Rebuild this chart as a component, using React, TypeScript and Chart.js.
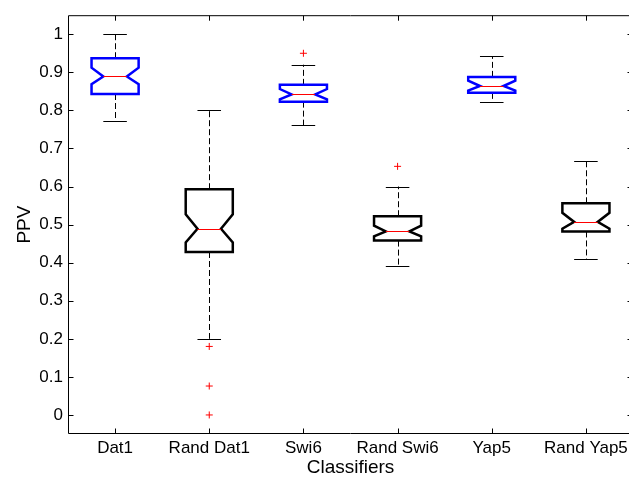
import React, { useEffect, useRef } from "react";
import { Chart, registerables } from "chart.js";

Chart.register(...registerables);

const categories = ["Dat1", "Rand Dat1", "Swi6", "Rand Swi6", "Yap5", "Rand Yap5"];
const whiskerLow = [0.773, 0.2, 0.761, 0.39, 0.823, 0.41];
const q1 = [0.843, 0.428, 0.823, 0.458, 0.846, 0.482];
const median = [0.889, 0.489, 0.842, 0.482, 0.864, 0.507];
const q3 = [0.937, 0.593, 0.867, 0.522, 0.888, 0.556];
const whiskerHigh = [1.0, 0.8, 0.92, 0.6, 0.942, 0.668];
const notchLow = [0.869, 0.453, 0.829, 0.469, 0.852, 0.489];
const notchHigh = [0.912, 0.527, 0.856, 0.497, 0.878, 0.531];
const boxColors = ["#0000ff", "#000000", "#0000ff", "#000000", "#0000ff", "#000000"];

const outlierCategory = [2, 2, 2, 3, 4];
const outlierValue = [0.18, 0.076, 0.0, 0.95, 0.653];

const yTickValues = [0, 0.1, 0.2, 0.3, 0.4, 0.5, 0.6, 0.7, 0.8, 0.9, 1];
const yTickLabels = ["0", "0.1", "0.2", "0.3", "0.4", "0.5", "0.6", "0.7", "0.8", "0.9", "1"];

const FONT = '"Liberation Sans", Arial, Helvetica, sans-serif';
const BOX_HALF = 0.25;
const NOTCH_HALF = 0.125;
const CAP_HALF = 0.125;

const boxPlugin = {
  id: "notchedBoxes",
  beforeDatasetsDraw(chart: any) {
    const { ctx } = chart;
    const x = chart.scales.x;
    const y = chart.scales.y;
    ctx.save();
    categories.forEach((_, i) => {
      const c = i + 1;
      const cx = x.getPixelForValue(c);
      const l = x.getPixelForValue(c - BOX_HALF);
      const r = x.getPixelForValue(c + BOX_HALF);
      const nl = x.getPixelForValue(c - NOTCH_HALF);
      const nr = x.getPixelForValue(c + NOTCH_HALF);
      const cl = x.getPixelForValue(c - CAP_HALF);
      const cr = x.getPixelForValue(c + CAP_HALF);
      const yq1 = y.getPixelForValue(q1[i]);
      const yq3 = y.getPixelForValue(q3[i]);
      const ymed = y.getPixelForValue(median[i]);
      const ynl = y.getPixelForValue(notchLow[i]);
      const ynh = y.getPixelForValue(notchHigh[i]);
      const ywl = y.getPixelForValue(whiskerLow[i]);
      const ywh = y.getPixelForValue(whiskerHigh[i]);
      const px = Math.round(cx) + 0.5;

      // whiskers (dashed)
      ctx.strokeStyle = "#000";
      ctx.lineWidth = 1;
      ctx.setLineDash([6, 3]);
      ctx.beginPath();
      ctx.moveTo(px, yq3);
      ctx.lineTo(px, ywh);
      ctx.moveTo(px, yq1);
      ctx.lineTo(px, ywl);
      ctx.stroke();
      ctx.setLineDash([]);
      // caps
      ctx.beginPath();
      ctx.moveTo(cl, Math.round(ywh) + 0.5);
      ctx.lineTo(cr, Math.round(ywh) + 0.5);
      ctx.moveTo(cl, Math.round(ywl) + 0.5);
      ctx.lineTo(cr, Math.round(ywl) + 0.5);
      ctx.stroke();

      // notched box
      ctx.strokeStyle = boxColors[i];
      ctx.lineWidth = 2.5;
      ctx.lineJoin = "miter";
      ctx.beginPath();
      ctx.moveTo(l, yq1);
      ctx.lineTo(l, ynl);
      ctx.lineTo(nl, ymed);
      ctx.lineTo(l, ynh);
      ctx.lineTo(l, yq3);
      ctx.lineTo(r, yq3);
      ctx.lineTo(r, ynh);
      ctx.lineTo(nr, ymed);
      ctx.lineTo(r, ynl);
      ctx.lineTo(r, yq1);
      ctx.closePath();
      ctx.stroke();

      // median
      ctx.strokeStyle = "#ff0000";
      ctx.lineWidth = 1;
      ctx.beginPath();
      ctx.moveTo(nl, Math.round(ymed) + 0.5);
      ctx.lineTo(nr, Math.round(ymed) + 0.5);
      ctx.stroke();
    });
    ctx.restore();
  },
  afterDraw(chart: any) {
    const { ctx, chartArea } = chart;
    const x = chart.scales.x;
    const y = chart.scales.y;
    const L = chartArea.left + 0.5;
    const R = chartArea.right - 0.5;
    const T = chartArea.top + 0.5;
    const B = chartArea.bottom - 0.5;
    ctx.save();
    ctx.strokeStyle = "#000";
    ctx.lineWidth = 1;
    ctx.beginPath();
    ctx.rect(L, T, R - L, B - T);
    const tl = 5;
    categories.forEach((_, i) => {
      const px = Math.round(x.getPixelForValue(i + 1)) + 0.5;
      ctx.moveTo(px, B);
      ctx.lineTo(px, B - tl);
      ctx.moveTo(px, T);
      ctx.lineTo(px, T + tl);
    });
    yTickValues.forEach((v) => {
      const py = Math.round(y.getPixelForValue(v)) + 0.5;
      ctx.moveTo(L, py);
      ctx.lineTo(L + tl, py);
      ctx.moveTo(R, py);
      ctx.lineTo(R - tl, py);
    });
    ctx.stroke();
    ctx.restore();
  },
};

export default function App() {
  const ref = useRef<HTMLCanvasElement | null>(null);
  useEffect(() => {
    if (!ref.current) return;
    const chart = new Chart(ref.current, {
      type: "scatter",
      data: {
        datasets: [
          {
            label: "Outliers",
            data: outlierCategory.map((c, i) => ({ x: c, y: outlierValue[i] })),
            pointStyle: "cross",
            pointRadius: 3.5,
            pointBorderColor: "#ff0000",
            pointBorderWidth: 1,
            borderColor: "#ff0000",
            backgroundColor: "#ff0000",
          } as any,
        ],
      },
      options: {
        responsive: false,
        animation: false,
        devicePixelRatio: 1,
        layout: { padding: { left: 0, right: 7, top: 14, bottom: 0 } },
        plugins: { legend: { display: false }, tooltip: { enabled: false } },
        scales: {
          x: {
            type: "linear",
            min: 0.5,
            max: 6.5,
            grid: { display: false, drawTicks: false },
            border: { display: false },
            afterBuildTicks: (scale: any) => {
              scale.ticks = categories.map((_, i) => ({ value: i + 1 }));
            },
            afterFit: (scale: any) => {
              scale.height = 43;
            },
            ticks: {
              autoSkip: false,
              maxRotation: 0,
              padding: 4,
              color: "#000",
              font: { family: FONT, size: 17 },
              callback: (v: any) => categories[Math.round(Number(v)) - 1] ?? "",
            },
            title: {
              display: true,
              text: "Classifiers",
              color: "#000",
              font: { family: FONT, size: 19, lineHeight: 1 },
              padding: { top: 0, bottom: 0 },
            },
          },
          y: {
            type: "linear",
            min: -0.05,
            max: 1.05,
            grid: { display: false, drawTicks: false },
            border: { display: false },
            afterBuildTicks: (scale: any) => {
              scale.ticks = yTickValues.map((v) => ({ value: v }));
            },
            afterFit: (scale: any) => {
              scale.width = 68;
            },
            ticks: {
              autoSkip: false,
              padding: 5,
              color: "#000",
              font: { family: FONT, size: 17 },
              callback: (v: any) => {
                const idx = yTickValues.findIndex((t) => Math.abs(t - Number(v)) < 1e-6);
                return idx >= 0 ? yTickLabels[idx] : "";
              },
            },
            title: {
              display: true,
              text: "PPV",
              color: "#000",
              font: { family: FONT, size: 19, lineHeight: 1 },
              padding: { top: 15, bottom: 0 },
            },
          },
        },
      },
      plugins: [boxPlugin],
    });
    return () => chart.destroy();
  }, []);
  return (
    <div
      style={{
        position: "fixed",
        left: 0,
        top: 0,
        width: 629,
        height: 477,
        overflow: "hidden",
        background: "#fff",
      }}
    >
      <canvas ref={ref} width={640} height={477} style={{ display: "block" }} />
    </div>
  );
}
